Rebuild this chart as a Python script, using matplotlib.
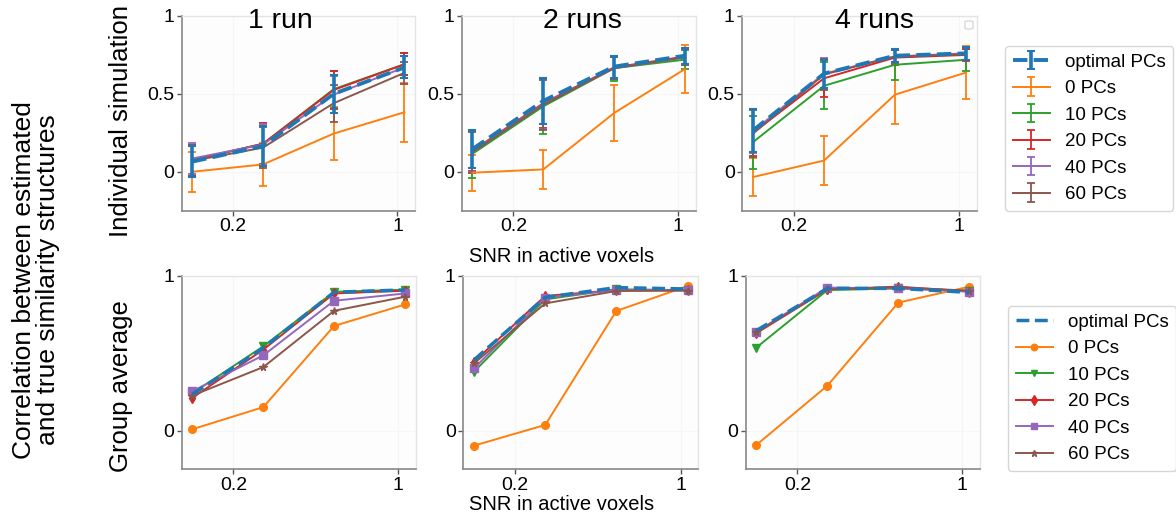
import matplotlib
matplotlib.use("Agg")
import matplotlib.pyplot as plt
from matplotlib.ticker import FixedLocator, NullLocator, FixedFormatter
from matplotlib.patches import FancyBboxPatch
import numpy as np

plt.rcParams['font.family'] = ['Liberation Sans', 'DejaVu Sans']

snr = [0.134, 0.268, 0.535, 1.07]
labels = ["optimal PCs", "0 PCs", "10 PCs", "20 PCs", "40 PCs", "60 PCs"]
colors = ["#1f77b4", "#ff7f0e", "#2ca02c", "#d62728", "#9467bd", "#8c564b"]
markers = [None, "o", "v", "d", "s", "*"]
run_titles = ["1 run", "2 runs", "4 runs"]

# Individual simulation: mean values per run condition (rows: optimal, 0, 10, 20, 40, 60 PCs)
ind_1run = [
    [0.065, 0.165, 0.500, 0.670],
    [0.000, 0.047, 0.245, 0.382],
    [0.075, 0.180, 0.530, 0.690],
    [0.075, 0.180, 0.525, 0.690],
    [0.085, 0.175, 0.495, 0.670],
    [0.070, 0.155, 0.440, 0.635],
]
ind_1run_err = [
    [0.10, 0.13, 0.12, 0.07],
    [0.13, 0.14, 0.17, 0.19],
    [0.10, 0.13, 0.12, 0.07],
    [0.10, 0.13, 0.12, 0.07],
    [0.10, 0.13, 0.12, 0.07],
    [0.10, 0.13, 0.12, 0.07],
]
ind_2runs = [
    [0.145, 0.455, 0.675, 0.745],
    [-0.006, 0.015, 0.377, 0.660],
    [0.115, 0.420, 0.665, 0.720],
    [0.135, 0.440, 0.670, 0.740],
    [0.130, 0.435, 0.665, 0.735],
    [0.125, 0.430, 0.665, 0.735],
]
ind_2runs_err = [
    [0.12, 0.15, 0.07, 0.05],
    [0.115, 0.125, 0.18, 0.155],
    [0.155, 0.175, 0.08, 0.06],
    [0.13, 0.16, 0.07, 0.05],
    [0.13, 0.16, 0.07, 0.05],
    [0.13, 0.16, 0.07, 0.05],
]
ind_4runs = [
    [0.265, 0.630, 0.745, 0.760],
    [-0.034, 0.072, 0.495, 0.637],
    [0.190, 0.552, 0.687, 0.719],
    [0.250, 0.600, 0.733, 0.750],
    [0.260, 0.630, 0.740, 0.760],
    [0.245, 0.625, 0.740, 0.755],
]
ind_4runs_err = [
    [0.14, 0.09, 0.04, 0.04],
    [0.12, 0.155, 0.19, 0.17],
    [0.17, 0.15, 0.10, 0.07],
    [0.15, 0.12, 0.05, 0.04],
    [0.14, 0.10, 0.04, 0.04],
    [0.15, 0.10, 0.04, 0.04],
]

# Group average
grp_1run = [
    [0.235, 0.535, 0.895, 0.910],
    [0.009, 0.152, 0.677, 0.816],
    [0.242, 0.545, 0.898, 0.911],
    [0.212, 0.524, 0.887, 0.905],
    [0.255, 0.487, 0.840, 0.887],
    [0.227, 0.411, 0.775, 0.866],
]
grp_2runs = [
    [0.457, 0.862, 0.925, 0.916],
    [-0.097, 0.037, 0.774, 0.935],
    [0.381, 0.849, 0.914, 0.909],
    [0.446, 0.871, 0.909, 0.909],
    [0.403, 0.860, 0.909, 0.909],
    [0.435, 0.823, 0.903, 0.905],
]
grp_4runs = [
    [0.647, 0.920, 0.920, 0.894],
    [-0.093, 0.291, 0.828, 0.931],
    [0.537, 0.909, 0.920, 0.905],
    [0.630, 0.914, 0.931, 0.899],
    [0.640, 0.925, 0.920, 0.899],
    [0.636, 0.914, 0.927, 0.905],
]

ind_means = [ind_1run, ind_2runs, ind_4runs]
ind_errs = [ind_1run_err, ind_2runs_err, ind_4runs_err]
grp_means = [grp_1run, grp_2runs, grp_4runs]

W, H = 1176, 515
fig = plt.figure(figsize=(W / 100, H / 100), dpi=100)


def ax_px(l, r, t, b):
    return fig.add_axes([l / W, 1 - b / H, (r - l) / W, (b - t) / H])


top_boxes = [(181.7, 415.0), (461.7, 695.7), (742.3, 976.7)]
bot_boxes = [(181.7, 415.7), (463.3, 698.3), (745.7, 980.0)]
title_x = [0.284, 0.347, 0.395]


def style(ax, yticks, yticklabels):
    ax.set_xscale('log')
    ax.set_facecolor('#fdfdfd')
    ax.set_ylim(-0.25, 1)
    ax.xaxis.set_major_locator(FixedLocator([0.2, 1]))
    ax.xaxis.set_major_formatter(FixedFormatter(['0.2', '1']))
    ax.xaxis.set_minor_locator(NullLocator())
    ax.set_yticks(yticks)
    ax.set_yticklabels(yticklabels)
    ax.tick_params(labelsize=14, color='#555555', length=3.5, width=1, pad=2)
    for s in ['left', 'bottom']:
        ax.spines[s].set_color('#888888')
        ax.spines[s].set_linewidth(1.2)
    for s in ['top', 'right']:
        ax.spines[s].set_color('#e4e4e4')
        ax.spines[s].set_linewidth(1.0)
    ax.grid(True, color='#f6f6f6', linewidth=0.8)
    ax.set_axisbelow(True)


top_handles = None
for j in range(3):
    ax = ax_px(top_boxes[j][0], top_boxes[j][1], 16, 210.7)
    handles = []
    for i in range(6):
        if i == 0:
            h = ax.errorbar(snr, ind_means[j][i], yerr=ind_errs[j][i], color=colors[i],
                            linestyle='--', linewidth=2.8, elinewidth=2.6, capsize=3,
                            capthick=1.5, zorder=4, label=labels[i])
        else:
            h = ax.errorbar(snr, ind_means[j][i], yerr=ind_errs[j][i], color=colors[i],
                            linestyle='-', linewidth=1.4, elinewidth=1.3, capsize=3,
                            capthick=1.3, zorder=3, label=labels[i])
        handles.append(h)
    style(ax, [0, 0.5, 1], ['0', '0.5', '1'])
    ax.text(title_x[j], 0.94, run_titles[j], transform=ax.transAxes, ha='left',
            va='baseline', fontsize=20.5)
    if j == 2:
        top_handles = handles

# small empty legend frame in the "4 runs" panel
fig.patches.append(FancyBboxPatch((965 / W, 1 - 29 / H), 8 / W, 8 / H,
                                  boxstyle='round,pad=0,rounding_size=0.002',
                                  transform=fig.transFigure, facecolor='white',
                                  edgecolor='#d0d0d0', linewidth=0.8, zorder=10))

bot_handles = None
for j in range(3):
    ax = ax_px(bot_boxes[j][0], bot_boxes[j][1], 276, 469.3)
    handles = []
    for i in range(6):
        if i == 0:
            h, = ax.plot(snr, grp_means[j][i], color=colors[i], linestyle='--',
                         linewidth=2.5, zorder=4, label=labels[i])
        else:
            h, = ax.plot(snr, grp_means[j][i], color=colors[i], linestyle='-',
                         linewidth=1.4, marker=markers[i], markersize=5.5, zorder=3,
                         label=labels[i])
        handles.append(h)
    style(ax, [0, 1], ['0', '1'])
    bot_handles = handles

fig.legend(handles=top_handles, labels=labels, loc='upper left',
           bbox_to_anchor=(1005 / W, 1 - 46 / H), borderaxespad=0, fontsize=13.5,
           labelspacing=0.5)
fig.legend(handles=bot_handles, labels=labels, loc='upper left',
           bbox_to_anchor=(1008 / W, 1 - 306 / H), borderaxespad=0, fontsize=13.5,
           labelspacing=0.5, markerscale=0.85)

fig.text(562 / W, 1 - 262 / H, "SNR in active voxels", ha='center', va='baseline', fontsize=14.5)
fig.text(562 / W, 1 - 510 / H, "SNR in active voxels", ha='center', va='baseline', fontsize=14.5)

fig.text(121 / W, 1 - 121 / H, "Individual simulation", rotation=90, ha='center',
         va='center', fontsize=18.5)
fig.text(121 / W, 1 - 386 / H, "Group average", rotation=90, ha='center',
         va='center', fontsize=18.5)
fig.text(36 / W, 1 - 280 / H, "Correlation between estimated\nand true similarity structures",
         rotation=90, ha='center', va='center', fontsize=19, multialignment='center',
         linespacing=1.0)

fig.savefig("out.png", dpi=100)
